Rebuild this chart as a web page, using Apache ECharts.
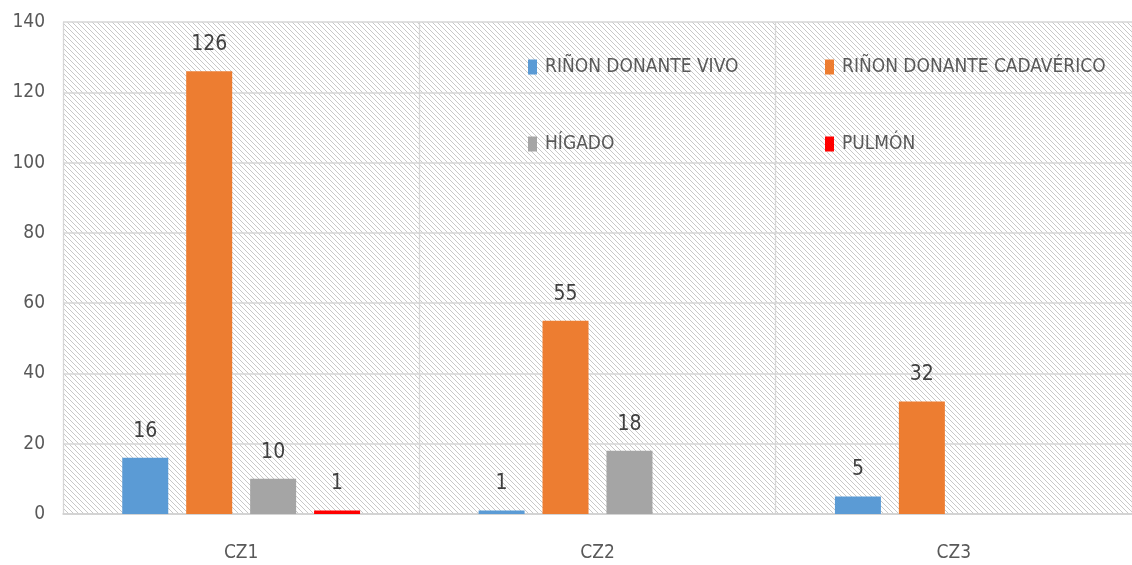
<!DOCTYPE html>
<html>
<head>
<meta charset="utf-8">
<script src="https://cdn.jsdelivr.net/npm/echarts@6/dist/echarts.min.js"></script>
<style>html,body{margin:0;padding:0;background:#fff;}#c{width:1132px;height:565px;}</style>
</head>
<body>
<div id="c"></div>
<script>
var categories = ['CZ1', 'CZ2', 'CZ3'];
var seriesNames = ['RIÑON DONANTE VIVO', 'RIÑON DONANTE CADAVÉRICO', 'HÍGADO', 'PULMÓN'];
var vivo = [16, 1, 5];
var cadaverico = [126, 55, 32];
var higado = [10, 18, null];
var pulmon = [1, null, null];
var colors = ['#5B9BD5', '#ED7D31', '#A5A5A5', '#FF0000'];

var FONT = '"DejaVu Sans Condensed", "Liberation Sans Narrow", sans-serif';

// hatch pattern
var pc = document.createElement('canvas');
pc.width = 5; pc.height = 5;
var ctx = pc.getContext('2d');
ctx.fillStyle = '#ffffff';
ctx.fillRect(0, 0, 5, 5);
ctx.strokeStyle = '#c8c8c8';
ctx.lineWidth = 1;
ctx.beginPath();
ctx.moveTo(-1, -1); ctx.lineTo(6, 6);
ctx.moveTo(-1, 4); ctx.lineTo(1, 6);
ctx.moveTo(4, -1); ctx.lineTo(6, 1);
ctx.stroke();

var chart = echarts.init(document.getElementById('c'));
var data = [vivo, cadaverico, higado, pulmon];
var series = seriesNames.map(function (n, i) {
  return {
    name: n,
    type: 'bar',
    data: data[i],
    barWidth: 46,
    barGap: '39%',
    itemStyle: { color: colors[i] },
    label: {
      show: true,
      position: 'top',
      distance: 16,
      color: '#404040',
      fontSize: 21,
      fontFamily: FONT
    }
  };
});
var legendPos = [[528, 57], [825, 57], [528, 134], [825, 134]];
var legends = seriesNames.map(function (n, i) {
  return {
    data: [n],
    left: legendPos[i][0],
    top: legendPos[i][1],
    padding: 0,
    itemWidth: 9,
    itemHeight: 15,
    icon: 'rect',
    itemGap: 5,
    selectedMode: false,
    textStyle: { color: '#595959', fontSize: 19, lineHeight: 20, fontFamily: FONT, padding: [0, 0, 0, 3] }
  };
});
chart.setOption({
  animation: false,
  grid: {
    left: 63, right: -6, top: 22, bottom: 51,
    show: true,
    borderWidth: 0,
    backgroundColor: { image: pc, repeat: 'repeat' }
  },
  legend: legends,
  xAxis: {
    type: 'category',
    data: categories,
    axisLine: { show: true, lineStyle: { color: '#d0d0d0', width: 1.5 } },
    axisTick: { show: false },
    splitLine: { show: true, lineStyle: { color: '#d6d6d6', width: 1.3 } },
    axisLabel: { color: '#595959', fontSize: 19, fontFamily: FONT, margin: 30 }
  },
  yAxis: {
    type: 'value',
    min: 0, max: 140, interval: 20,
    axisLine: { show: false },
    axisTick: { show: false },
    splitLine: { lineStyle: { color: '#d6d6d6', width: 1.5 } },
    axisLabel: { color: '#595959', fontSize: 19, fontFamily: FONT, margin: 18, padding: [4, 0, 0, 0] }
  },
  series: series
});
</script>
</body>
</html>
